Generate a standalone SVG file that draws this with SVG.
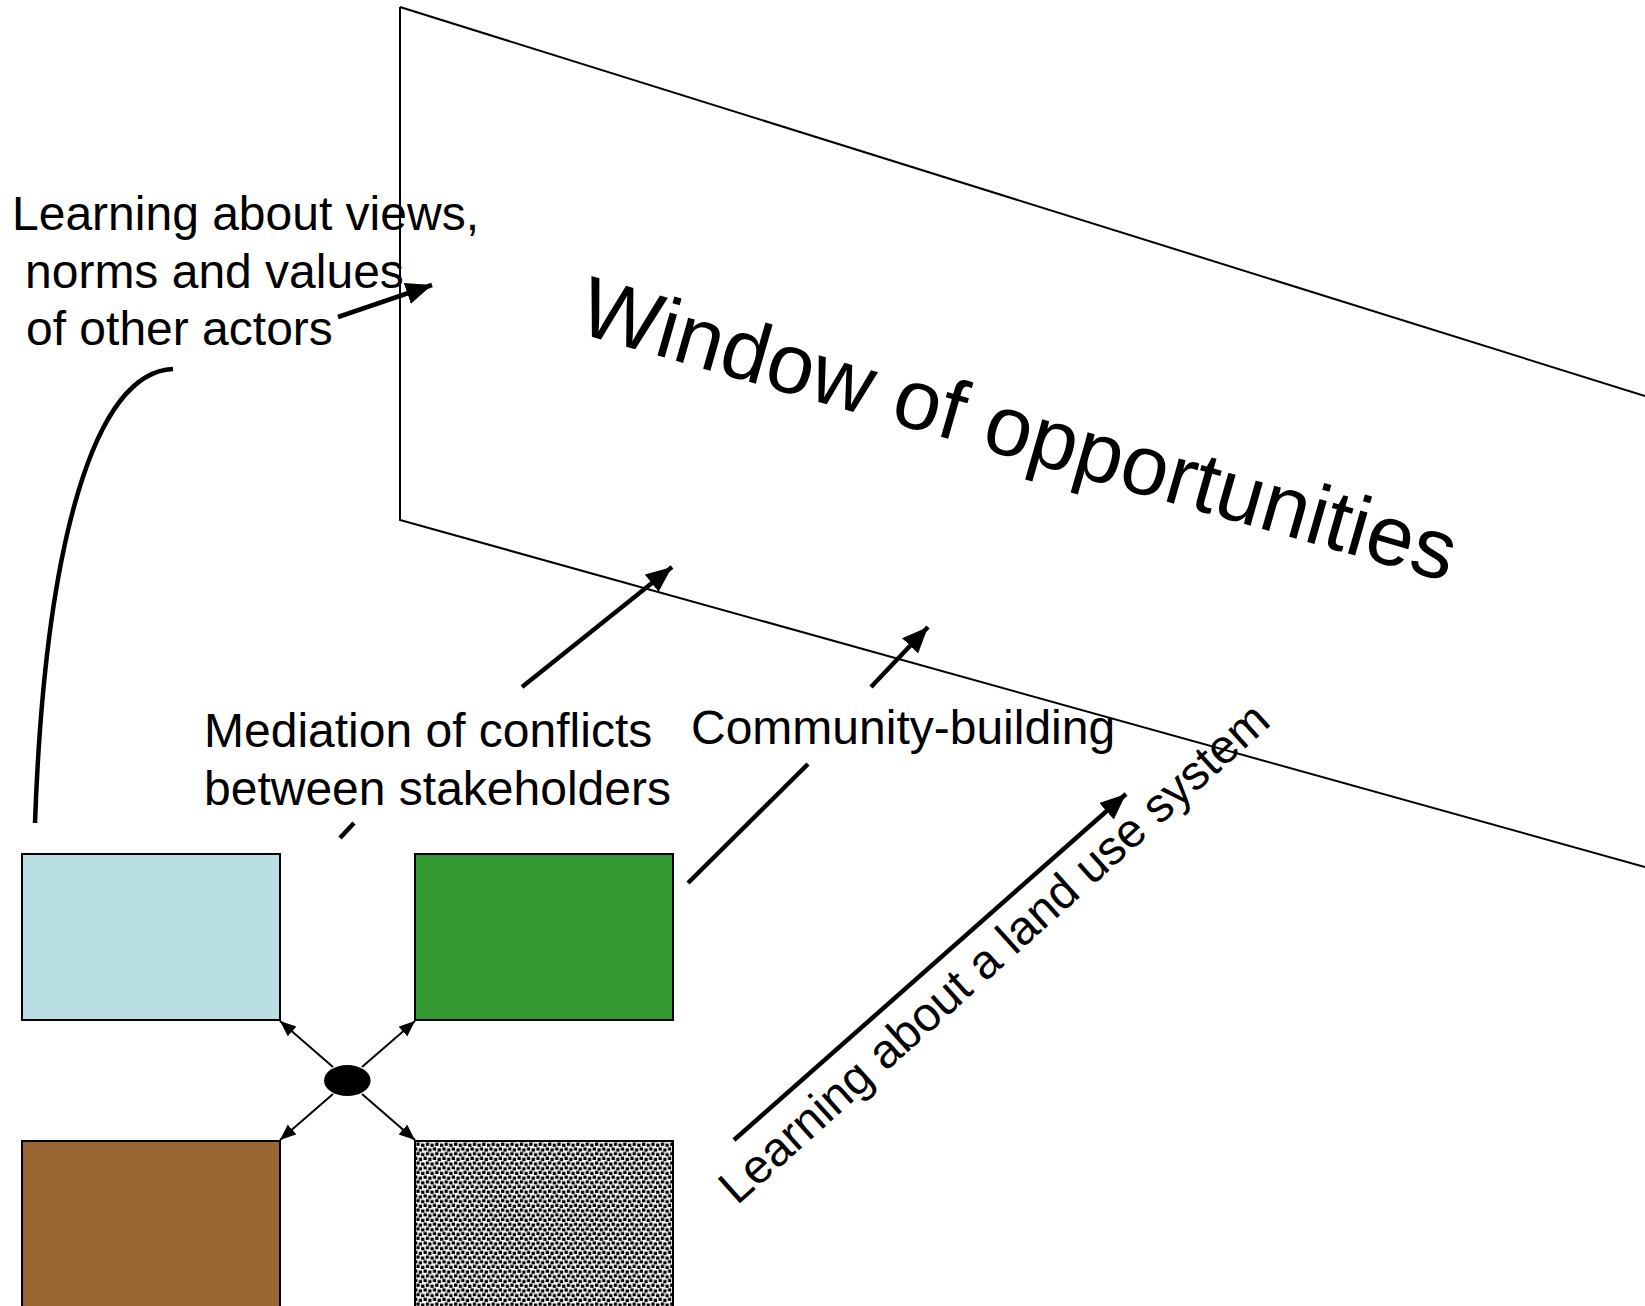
<svg xmlns="http://www.w3.org/2000/svg" width="1645" height="1306" viewBox="0 0 1645 1306">
<style>
  text { font-family: "Liberation Sans", Arial, sans-serif; fill: #000; }
  .lbl { font-size: 48px; }
  .big { stroke: #000; stroke-width: 4.5; fill: none; }
  .thin { stroke: #000; stroke-width: 2; fill: none; }
  .box { stroke: #000; stroke-width: 2; }
</style>
<defs>
  <marker id="bighead" markerUnits="userSpaceOnUse" markerWidth="28" markerHeight="24" refX="26" refY="11" orient="auto">
    <path d="M0,0 L26,11 L0,22 z" fill="#000"/>
  </marker>
  <marker id="smallhead" markerUnits="userSpaceOnUse" markerWidth="18" markerHeight="14" refX="16" refY="6.5" orient="auto">
    <path d="M0,0 L16,6.5 L0,13 z" fill="#000"/>
  </marker>
  <pattern id="dots" patternUnits="userSpaceOnUse" width="9.4" height="9.4">
    <rect width="9.4" height="9.4" fill="#fff"/>
    <rect x="0.5" y="0.5" width="3.3" height="3.3" fill="#000"/>
    <rect x="5.2" y="1.5" width="3.3" height="3.3" fill="#000"/>
    <rect x="2.8" y="5.2" width="3.3" height="3.3" fill="#000"/>
    <rect x="7.5" y="6.2" width="3.3" height="3.3" fill="#000"/>
    <rect x="-1.9" y="6.2" width="3.3" height="3.3" fill="#000"/>
  </pattern>
</defs>

<g id="window">
  <path d="M400,7 L1645,396 M400,7 L400,520 L1645,867" stroke="#000" stroke-width="2" fill="none"/>
  <text x="575" y="332" font-size="85" transform="rotate(16 575 332)">Window of opportunities</text>
</g>

<g id="box-lightblue"><rect class="box" x="22" y="854" width="258" height="166" fill="#B9DFE2"/></g>
<g id="box-green"><rect class="box" x="415" y="854" width="258" height="166" fill="#339933"/></g>
<g id="box-brown"><rect class="box" x="22" y="1141" width="258" height="175" fill="#996633"/></g>
<g id="box-dotted"><rect class="box" x="415" y="1141" width="258" height="175" fill="url(#dots)"/></g>
<g id="hub"><ellipse cx="347.3" cy="1080.5" rx="23.3" ry="15.5" fill="#000"/></g>

<g id="label-views">
  <text class="lbl" x="12" y="230">Learning about views,</text>
  <text class="lbl" x="25" y="288">norms and values</text>
  <text class="lbl" x="26" y="345">of other actors</text>
</g>
<g id="label-mediation">
  <text class="lbl" x="204" y="747">Mediation of conflicts</text>
  <text class="lbl" x="204" y="805">between stakeholders</text>
</g>
<g id="label-community">
  <text class="lbl" x="691" y="744">Community-building</text>
</g>
<g id="label-landuse">
  <text class="lbl" x="737" y="1206" font-size="47" transform="rotate(-42 737 1206)">Learning about a land use system</text>
</g>

<g id="connectors">
  <path class="big" d="M35,823 C45,540 95,372 173,369"/>
  <line class="big" x1="338" y1="317" x2="432" y2="285" marker-end="url(#bighead)"/>
  <line class="big" x1="522" y1="687" x2="672" y2="567" marker-end="url(#bighead)"/>
  <line class="big" x1="340" y1="838" x2="354" y2="823"/>
  <line class="big" x1="871" y1="687" x2="928" y2="627" marker-end="url(#bighead)"/>
  <line class="big" x1="688" y1="883" x2="808" y2="764"/>
  <line class="big" x1="734" y1="1140" x2="1126" y2="794" marker-end="url(#bighead)"/>
  <line class="thin" x1="333" y1="1067" x2="280" y2="1021" marker-end="url(#smallhead)"/>
  <line class="thin" x1="362" y1="1067" x2="415" y2="1021" marker-end="url(#smallhead)"/>
  <line class="thin" x1="333" y1="1094" x2="280" y2="1140" marker-end="url(#smallhead)"/>
  <line class="thin" x1="362" y1="1094" x2="415" y2="1140" marker-end="url(#smallhead)"/>
</g>
</svg>
